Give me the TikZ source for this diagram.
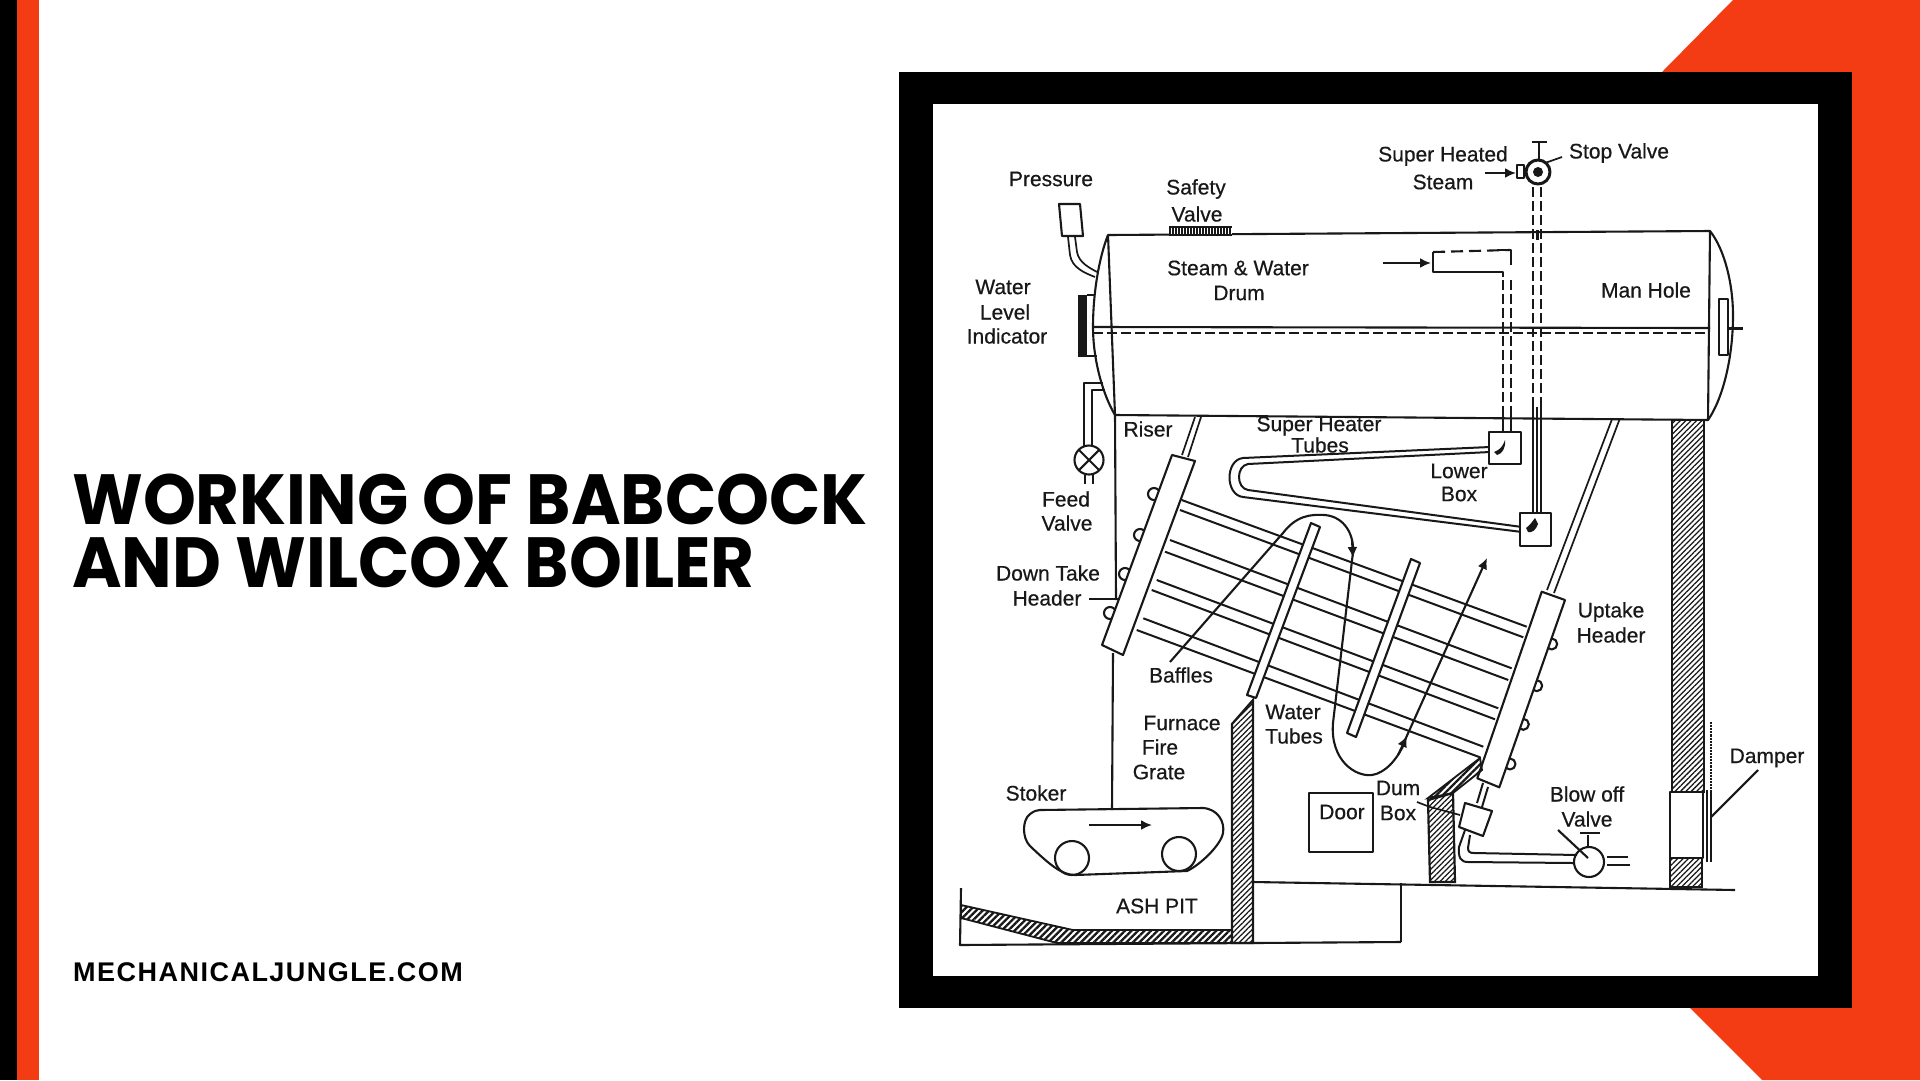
\documentclass[tikz,border=0pt]{standalone}
\usepackage{fontspec}
\usetikzlibrary{arrows.meta,patterns.meta}
\setmainfont{Liberation Sans}[FakeBold=0.5]
\newfontfamily\titlefont{Poppins}[UprightFont=*-Bold]
\newfontfamily\footfont{Liberation Sans}[UprightFont=* Bold,LetterSpace=5.5]
\definecolor{redbrand}{RGB}{244,60,20}
\definecolor{ink}{RGB}{24,24,24}
\tikzset{
  x=1pt,y=-1pt,
  ln/.style={draw=ink,line width=2.1pt,line join=round},
  thinln/.style={draw=ink,line width=1.7pt},
  tube/.style={draw=ink,line width=2pt},
  dsh/.style={draw=ink,line width=2pt,dash pattern=on 10pt off 4pt},
  lbl/.style={text=ink,font=\fontsize{21}{24}\selectfont,inner sep=0pt,align=center},
  hatch/.style={draw=ink,line width=2.2pt,pattern={Lines[angle=45,distance=3.8pt,line width=1.25pt]},pattern color=ink},
  hatchb/.style={draw=ink,line width=1.8pt,pattern={Lines[angle=45,distance=4.6pt,line width=2.3pt]},pattern color=ink},
  plate/.style={ln,fill=white},
  arrowln/.style={ln,-{Latex[length=11pt,width=10pt]}},
}
\begin{document}
\begin{tikzpicture}
\useasboundingbox (0,0) rectangle (1920,1080);
\fill[white] (0,0) rectangle (1920,1080);
% slide furniture
\fill[black] (0,0) rectangle (17,1080);
\fill[redbrand] (17,0) rectangle (38.5,1080);
\fill[redbrand] (1733,0) -- (1920,0) -- (1920,1080) -- (1762,1080) -- (1690,1008) -- (1662,72) -- cycle;
\fill[black] (899,72) rectangle (1852,1008);
\fill[white] (933,104) rectangle (1818,976);
\node[anchor=base west,inner sep=0pt,text=black,font=\titlefont\fontsize{71}{71}\selectfont] (t1) at (72,524) {\scalebox{0.948}[1]{WORKING OF BABCOCK}};
\node[anchor=base west,inner sep=0pt,text=black,font=\titlefont\fontsize{71}{71}\selectfont] (t2) at (72,587) {\scalebox{0.948}[1]{AND WILCOX BOILER}};
\node[anchor=base west,inner sep=0pt,text=black,font=\footfont\fontsize{27}{27}\selectfont] (foot) at (73,981) {MECHANICALJUNGLE.COM};
% drum
\draw[ln] (1108,235) -- (1710,231) .. controls (1725,250) and (1733,285) .. (1733,315) .. controls (1733,360) and (1722,400) .. (1708,420) -- (1115,415) .. controls (1103,395) and (1093,360) .. (1093,327) .. controls (1093,290) and (1100,255) .. (1108,235) -- cycle;
\draw[ln] (1108,235) -- (1115,415);
\draw[ln] (1710,231) -- (1708,420);
\draw[ln] (1093,327) -- (1710,328);
\draw[dsh] (1093,333) -- (1708,333);
% pressure
\draw[ln] (1059,204) -- (1080,204) -- (1083,236) -- (1062,236) -- cycle;
\draw[thinln] (1068,237) -- (1070,255) .. controls (1072,268) and (1085,273) .. (1095,277);
\draw[thinln] (1075,237) -- (1077,252) .. controls (1079,263) and (1090,268) .. (1097,272);
% safety valve
\fill[ink] (1169,226) rectangle (1232,236);
\foreach \i in {0,...,20}{\fill[white] (1171+\i*3,228) rectangle (1172.2+\i*3,234);}
% water level
\fill[ink] (1078,295) rectangle (1087,357);
\draw[ln] (1087,295) -- (1095,295);
\draw[ln] (1087,356) -- (1097,356);
% feed valve
\draw[ln] (1103,383) -- (1084,383) -- (1084,447);
\draw[ln] (1105,390) -- (1092,390) -- (1092,447);
\draw[ln] (1089,460) circle (14.5);
\draw[ln] (1079,450) -- (1099,470) (1099,450) -- (1079,470);
\draw[ln] (1085,475) -- (1085,484) (1093,475) -- (1093,484);
% furnace wall
\draw[ln] (1115,415) -- (1116,600);
\draw[ln] (1113,653) -- (1112,810);
% circles behind headers
\foreach \p in {(1154,494),(1140,535),(1125,574),(1110,613)}{\draw[ln] \p circle (6);}
\foreach \p in {(1551.7,644),(1536.7,685.7),(1523.3,724.3),(1510,764)}{\draw[ln] \p circle (5.5);}
% water tubes
\draw[tube] (1181.7,500) -- (1526.7,626.7) (1180,510) -- (1523.3,637.3);
\draw[tube] (1170,540) -- (1511.7,668.3) (1165,551.7) -- (1508.3,680);
\draw[tube] (1156.7,580) -- (1498.3,708.3) (1151.7,590) -- (1495,719.3);
\draw[tube] (1143.3,618.3) -- (1483.3,746.7) (1136.7,630) -- (1480,757.3);
% baffles
\draw[plate] (1311,523) -- (1320,527) -- (1256,698) -- (1247,695) -- cycle;
\draw[plate] (1411,559) -- (1420,563) -- (1356,737) -- (1347,733) -- cycle;
% gas flow and leader
\draw[ln] (1170,662) -- (1283,533) .. controls (1296,516) and (1310,514) .. (1325,515) .. controls (1345,517) and (1354,535) .. (1353,552);
\draw[arrowln] (1352,540) -- (1353,558);
\draw[ln] (1353,552) -- (1333,723) .. controls (1330,760) and (1355,777) .. (1372,775) .. controls (1385,773) and (1397,760) .. (1405,742);
\draw[arrowln] (1398,755) -- (1407,736);
\draw[arrowln] (1405,740) -- (1487,558);
% headers
\draw[plate] (1172,455) -- (1195,461) -- (1123,655) -- (1102,645) -- cycle;
\draw[plate] (1541.7,591.7) -- (1565,600) -- (1499.3,787.3) -- (1477.3,778.3) -- cycle;
\draw[thinln] (1182,455) -- (1195,417) (1188,457) -- (1201,417);
\draw[thinln] (1547,590) -- (1611.7,420) (1554,593) -- (1619.3,420);
% leader down take
\draw[ln] (1089,599) -- (1118,599);
% super heater
\draw[tube] (1490,447) -- (1243,458) .. controls (1225,460) and (1225,495) .. (1243,497) -- (1522,532);
\draw[tube] (1490,452) -- (1248,464) .. controls (1236,466) and (1236,488) .. (1248,490) -- (1522,527);
\draw[plate] (1489,432) rectangle (1521,464);
\draw[plate] (1520,513) rectangle (1551,546);
\fill[ink] (1494,452) .. controls (1500,450) and (1503,446) .. (1505,440) .. controls (1506,448) and (1502,454) .. (1497,455) -- cycle;
\fill[ink] (1526,528) .. controls (1530,525) and (1532,522) .. (1535,518) -- (1538,524) .. controls (1536,530) and (1532,533) .. (1528,532) -- cycle;
\draw[tube] (1503,433) -- (1503,416) (1511,433) -- (1511,416);
\draw[dsh] (1503,416) -- (1503,277);
\draw[dsh] (1511,416) -- (1511,277);
\draw[ln] (1503,277) -- (1503,272) -- (1433,272) -- (1433,252);
\draw[ln,dash pattern=on 12pt off 6pt] (1433,252) -- (1510,250);
\draw[ln] (1497,250) -- (1511,250) -- (1511,265);
\draw[arrowln] (1383,263) -- (1431,263);
% stop valve pipe
\draw[dsh] (1533,187) -- (1533,407) (1541,187) -- (1541,407);
\draw[tube] (1533,407) -- (1533,513) (1541,407) -- (1541,513);
\draw[line width=1.2pt,draw=ink] (1537,407) -- (1537,513);
\draw[line width=3pt,draw=ink] (1537,230) -- (1537,240);
\draw[plate,line width=3pt] (1538,172) circle (12);
\fill[ink] (1538,172) circle (5);
\draw[ln] (1539,142) -- (1539,159);
\draw[ln] (1532,142) -- (1547,142);
\draw[ln] (1517,165) rectangle (1524,178);
\draw[ln] (1524,171) -- (1526,171);
\draw[arrowln] (1485,173) -- (1516,173);
\draw[thinln] (1545,163) -- (1562,157);
% manhole
\draw[ln] (1719,299) rectangle (1728,355);
\draw[line width=3pt,draw=ink] (1728,328) -- (1743,328);
% right column
\draw[hatch] (1672,420) rectangle (1704,792);
\draw[plate] (1670,792) rectangle (1703,858);
\draw[hatch] (1670,858) rectangle (1702,887);
\draw[ln] (1707,790) -- (1707,862) (1711,790) -- (1711,862);
\draw[ln,densely dotted] (1711,722) -- (1711,790);
\draw[ln] (1711,817) -- (1758,770);
% floor and base
\draw[ln] (1253,882) -- (1735,890);
\draw[ln] (1401,883) -- (1401,942);
\draw[ln] (961,888) -- (960,945) -- (1401,942);
% ash slope and wall
\draw[hatchb] (961,905) -- (1073,930) -- (1232,930) -- (1232,943) -- (1057,943) -- (961,918) -- cycle;
\draw[hatch] (1232,943) -- (1232,724) -- (1253,700) -- (1253,943) -- cycle;
% stoker
\draw[ln] (1040,810) -- (1203,808) .. controls (1218,809) and (1225,822) .. (1223,833) .. controls (1221,845) and (1200,865) .. (1187,871) -- (1075,875) .. controls (1062,875) and (1050,865) .. (1030,846) .. controls (1022,838) and (1022,820) .. (1030,814) .. controls (1034,811) and (1037,810) .. (1040,810);
\draw[ln] (1072,858) circle (17);
\draw[ln] (1179,854) circle (17);
\draw[arrowln] (1089,825) -- (1152,825);
% door
\draw[ln] (1309,793) rectangle (1373,852);
% dum box wall
\draw[hatchb] (1428,798) -- (1480,758) -- (1482,770) -- (1453,793) -- cycle;
\draw[hatch] (1428,800) -- (1453,793) -- (1455,882) -- (1430,882) -- cycle;
\draw[thinln] (1417,802) -- (1430,807) -- (1460,815);
% mud box and blow off
\draw[tube] (1483,783) -- (1477,803) (1488,787) -- (1482,807);
\draw[plate] (1465,803) -- (1492,811) -- (1483,836) -- (1459,827) -- cycle;
\draw[tube] (1465,830) -- (1459,847) .. controls (1458,858) and (1461,862) .. (1468,862) -- (1573,863);
\draw[tube] (1470,835) -- (1468,848) .. controls (1468,852) and (1470,853) .. (1474,853) -- (1577,855);
\draw[tube] (1607,857) -- (1628,857) (1607,865) -- (1630,865);
\draw[ln] (1589,862) circle (15);
\draw[ln] (1588,835) -- (1588,847);
\draw[ln] (1580,833) -- (1600,833);
\draw[ln] (1558,830) -- (1588,858);
% labels
\node[lbl] (n1) at (1051,179) {Pressure};
\node[lbl] (n2) at (1196,189) {Safety};
\node[lbl] (n3) at (1197,214) {Valve};
\node[lbl] (n4) at (1238,268) {Steam \& Water};
\node[lbl] (n5) at (1239,293) {Drum};
\node[lbl] (n6) at (1003,287) {Water};
\node[lbl] (n7) at (1005,312) {Level};
\node[lbl] (n8) at (1007,336) {Indicator};
\node[lbl] (n9) at (1443,156) {Super Heated};
\node[lbl] (n10) at (1443,182) {Steam};
\node[lbl] (n11) at (1619,153) {Stop Valve};
\node[lbl] (n12) at (1646,290) {Man Hole};
\node[lbl] (n13) at (1148,429) {Riser};
\node[lbl] (n14) at (1319,426) {Super Heater};
\node[lbl] (n15) at (1320,445) {Tubes};
\node[lbl] (n16) at (1459,471) {Lower};
\node[lbl] (n17) at (1459,494) {Box};
\node[lbl] (n18) at (1066,499) {Feed};
\node[lbl] (n19) at (1067,523) {Valve};
\node[lbl] (n20) at (1048,573) {Down Take};
\node[lbl] (n21) at (1047,598) {Header};
\node[lbl] (n22) at (1181,675) {Baffles};
\node[lbl] (n23) at (1182,723) {Furnace};
\node[lbl] (n24) at (1160,747) {Fire};
\node[lbl] (n25) at (1159,772) {Grate};
\node[lbl] (n26) at (1293,712) {Water};
\node[lbl] (n27) at (1294,736) {Tubes};
\node[lbl] (n28) at (1036,793) {Stoker};
\node[lbl] (n29) at (1157,906) {ASH PIT};
\node[lbl] (n30) at (1342,812) {Door};
\node[lbl] (n31) at (1398,788) {Dum};
\node[lbl] (n32) at (1398,813) {Box};
\node[lbl] (n33) at (1611,612) {Uptake};
\node[lbl] (n34) at (1611,635) {Header};
\node[lbl] (n35) at (1587,794) {Blow off};
\node[lbl] (n36) at (1587,819) {Valve};
\node[lbl] (n37) at (1767,758) {Damper};
\end{tikzpicture}
\end{document}
